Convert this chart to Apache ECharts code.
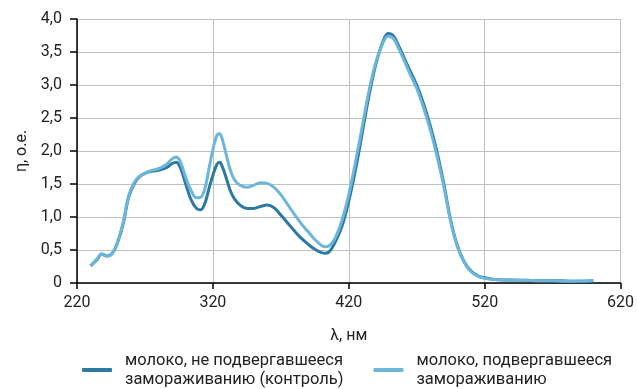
<!DOCTYPE html>
<html>
<head>
<meta charset="utf-8">
<script src="https://cdn.jsdelivr.net/npm/echarts@6/dist/echarts.min.js"></script>
<style>
  html, body { margin: 0; padding: 0; background: #fff; }
  #chart { width: 637px; height: 389px; }
</style>
</head>
<body>
<div id="chart"></div>
<script>
  // длина волны, нм
  const wavelengths = [
    230, 235, 238, 242, 246, 250, 254, 258, 262, 266, 270, 274, 278, 282, 286, 290,
    293, 296, 300, 304, 308, 311, 314, 317, 320, 323, 325, 327, 330, 333, 336, 340,
    345, 350, 355, 360, 365, 370, 375, 380, 385, 390, 395, 400, 403, 406, 410, 415,
    420, 425, 430, 435, 440, 445, 449, 453, 457, 461, 465, 470, 475, 480, 485, 490,
    495, 500, 505, 510, 515, 520, 530, 540, 550, 560, 570, 580, 590, 600
  ];
  // контроль
  const controlValues = [
    0.26, 0.36, 0.44, 0.41, 0.45, 0.62, 0.90, 1.30, 1.50, 1.61, 1.66, 1.69, 1.70, 1.72, 1.75, 1.81,
    1.83, 1.75, 1.50, 1.26, 1.13, 1.11, 1.20, 1.42, 1.63, 1.80, 1.83, 1.76, 1.58, 1.39, 1.27, 1.18,
    1.13, 1.13, 1.16, 1.18, 1.14, 1.03, 0.91, 0.79, 0.68, 0.59, 0.51, 0.46, 0.45, 0.48, 0.62, 0.86,
    1.24, 1.72, 2.28, 2.85, 3.32, 3.65, 3.78, 3.74, 3.58, 3.40, 3.22, 3.00, 2.72, 2.38, 1.98, 1.50,
    0.95, 0.56, 0.32, 0.18, 0.11, 0.08, 0.05, 0.045, 0.04, 0.035, 0.035, 0.03, 0.025, 0.035
  ];
  // замороженное
  const frozenValues = [
    0.26, 0.37, 0.44, 0.41, 0.45, 0.63, 0.92, 1.32, 1.52, 1.62, 1.66, 1.70, 1.72, 1.75, 1.80, 1.88,
    1.91, 1.84, 1.60, 1.40, 1.29, 1.30, 1.42, 1.72, 2.02, 2.24, 2.26, 2.17, 1.93, 1.70, 1.56, 1.48,
    1.45, 1.48, 1.52, 1.51, 1.45, 1.34, 1.19, 1.04, 0.90, 0.78, 0.66, 0.57, 0.55, 0.57, 0.68, 0.95,
    1.34, 1.84, 2.38, 2.92, 3.35, 3.63, 3.74, 3.70, 3.54, 3.36, 3.17, 2.95, 2.66, 2.32, 1.92, 1.46,
    0.93, 0.55, 0.31, 0.17, 0.10, 0.07, 0.05, 0.04, 0.04, 0.035, 0.035, 0.025, 0.03, 0.035
  ];
  const seriesNames = [
    "молоко, не подвергавшееся\nзамораживанию (контроль)",
    "молоко, подвергавшееся\nзамораживанию"
  ];
  const xTicks = [220, 320, 420, 520, 620];

  const toPairs = (vals) => wavelengths.map((x, i) => [x, vals[i]]);

  const chart = echarts.init(document.getElementById("chart"));
  const font = "Roboto";
  const option = {
    animation: false,
    grid: { left: 77, right: 16, top: 19, bottom: 106 },
    legend: {
      left: 77,
      top: 346,
      itemGap: 30,
      itemWidth: 30,
      itemHeight: 4,
      icon: "roundRect",
      textStyle: {
        fontFamily: font,
        fontSize: 16.5,
        color: "#222",
        lineHeight: 19,
        padding: [0, 0, 0, 8],
      },
      data: seriesNames,
    },
    xAxis: {
      type: "value",
      min: xTicks[0],
      max: xTicks[xTicks.length - 1],
      interval: 100,
      name: "λ, нм",
      nameLocation: "middle",
      nameGap: 45,
      nameTextStyle: { fontFamily: font, fontSize: 16, color: "#222" },
      axisLine: { lineStyle: { color: "#000", width: 1.5 } },
      axisTick: { show: true, length: 6, lineStyle: { color: "#000", width: 1.5 } },
      axisLabel: { fontFamily: font, fontSize: 16, color: "#222", margin: 12 },
      splitLine: { show: true, lineStyle: { color: "#bfbfbf", width: 1 } },
    },
    yAxis: {
      type: "value",
      min: 0,
      max: 4,
      interval: 0.5,
      name: "η, о.е.",
      nameLocation: "middle",
      nameGap: 39,
      nameTextStyle: { fontFamily: font, fontSize: 16, color: "#222" },
      axisLine: { show: true, lineStyle: { color: "#000", width: 1.5 } },
      axisTick: { show: true, length: 7, lineStyle: { color: "#000", width: 1.5 } },
      axisLabel: {
        fontFamily: font,
        fontSize: 16,
        color: "#222",
        margin: 15,
        formatter: (v) => (v === 0 ? "0" : v.toFixed(1).replace(".", ",")),
      },
      splitLine: { show: true, lineStyle: { color: "#bfbfbf", width: 1 } },
    },
    series: [
      {
        name: seriesNames[1],
        type: "line",
        data: toPairs(frozenValues),
        smooth: 0.4,
        showSymbol: false,
        lineStyle: { color: "#6cb6db", width: 3 },
        itemStyle: { color: "#6cb6db" },
      },
      {
        name: seriesNames[0],
        type: "line",
        data: toPairs(controlValues),
        smooth: 0.4,
        showSymbol: false,
        lineStyle: { color: "#2c7aa4", width: 3 },
        itemStyle: { color: "#2c7aa4" },
        z: 1,
      },
    ],
  };
  chart.setOption(option);
</script>
</body>
</html>
